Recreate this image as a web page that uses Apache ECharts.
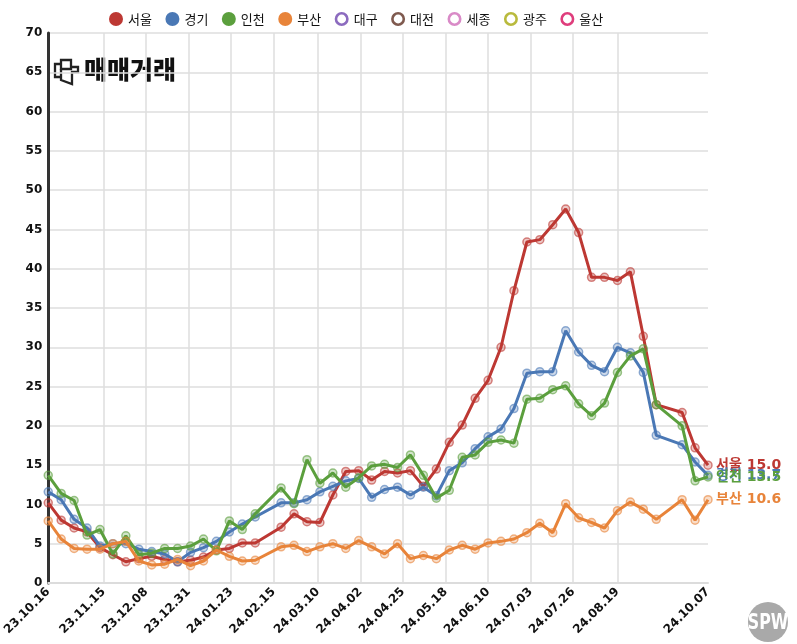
<!DOCTYPE html>
<html><head><meta charset="utf-8">
<script src="https://cdn.jsdelivr.net/npm/echarts@6/dist/echarts.min.js"></script>
<style>html,body{margin:0;padding:0;background:#fff}#c{width:797px;height:644px}</style>
</head><body><div id="c"></div>
<script>
// ---- data ----
const dates = ['23.10.16','23.10.23','23.10.30','23.11.06','23.11.13','23.11.20','23.11.27','23.12.04','23.12.11','23.12.18','23.12.25',
 '24.01.01','24.01.08','24.01.15','24.01.22','24.01.29','24.02.05','24.02.19','24.02.26','24.03.04','24.03.11','24.03.18','24.03.25',
 '24.04.01','24.04.08','24.04.15','24.04.22','24.04.29','24.05.06','24.05.13','24.05.20','24.05.27','24.06.03','24.06.10','24.06.17',
 '24.06.24','24.07.01','24.07.08','24.07.15','24.07.22','24.07.29','24.08.05','24.08.12','24.08.19','24.08.26','24.09.02','24.09.09',
 '24.09.23','24.09.30','24.10.07'];
const seoul = [10.2,8.0,7.0,6.5,4.5,3.6,2.7,3.1,3.4,3.0,2.7,2.9,3.3,4.2,4.4,5.1,5.1,7.1,8.8,7.8,7.7,11.2,14.2,14.3,13.1,14.2,14.0,14.3,12.3,14.5,17.9,20.1,23.5,25.8,30.0,37.2,43.4,43.7,45.6,47.6,44.6,38.9,38.9,38.5,39.6,31.4,22.7,21.7,17.2,15.0];
const gyeonggi = [11.6,10.6,8.1,7.0,4.7,5.0,5.0,4.3,4.0,3.7,2.7,3.9,4.5,5.3,6.5,7.5,8.4,10.2,10.2,10.6,11.6,12.3,13.0,13.3,10.9,11.9,12.2,11.2,12.2,11.1,14.3,15.3,17.1,18.6,19.6,22.2,26.7,26.9,26.9,32.1,29.4,27.7,26.9,30.0,29.3,26.8,18.8,17.6,15.4,13.7];
const incheon = [13.7,11.4,10.5,6.1,6.8,3.7,6.0,3.6,3.8,4.4,4.4,4.7,5.6,4.1,7.9,6.8,8.8,12.1,10.1,15.7,12.7,14.0,12.2,13.4,14.9,15.1,14.7,16.3,13.7,10.8,11.8,16.0,16.3,17.9,18.2,17.8,23.4,23.5,24.6,25.1,22.8,21.3,22.9,26.8,28.9,29.8,22.7,20.0,13.0,13.5];
const busan = [7.9,5.6,4.4,4.3,4.3,5.0,5.3,2.8,2.3,2.4,3.0,2.2,2.8,4.2,3.4,2.8,2.9,4.6,4.8,4.0,4.6,5.0,4.4,5.4,4.6,3.7,5.0,3.1,3.5,3.1,4.2,4.8,4.3,5.1,5.3,5.6,6.4,7.6,6.4,10.1,8.3,7.7,7.0,9.2,10.3,9.4,8.1,10.6,8.0,10.6];
const seriesNames = ['서울','경기','인천','부산','대구','대전','세종','광주','울산'];
const seriesValues = [seoul, gyeonggi, incheon, busan];
const xTickLabels = ['23.10.16','23.11.15','23.12.08','23.12.31','24.01.23','24.02.15','24.03.10','24.04.02','24.04.25','24.05.18','24.06.10','24.07.03','24.07.26','24.08.19','24.10.07'];
const yTicks = {min:0, max:70, interval:5};

// ---- styles ----
const colors = ['#bd3833','#4a78b5','#5b9f3d','#e8843a','#8c6bbf','#7f5a4f','#d98ac7','#b9ba3d','#df3d7c'];
function parseD(s){const p=s.split('.');return Date.UTC(2000+(+p[0]),(+p[1])-1,+p[2]);}
function fmtD(t){const d=new Date(t);const z=n=>(n<10?'0':'')+n;return z(d.getUTCFullYear()%100)+'.'+z(d.getUTCMonth()+1)+'.'+z(d.getUTCDate());}
function rgba(hex,a){const n=parseInt(hex.slice(1),16);return 'rgba('+(n>>16)+','+((n>>8)&255)+','+(n&255)+','+a+')';}
const times = dates.map(parseD);
const tickTimes = xTickLabels.map(parseD);
const FONT = 'DejaVu Sans, Noto Sans CJK KR, sans-serif';
const KFONT = 'Noto Sans CJK KR, sans-serif';
const RING = 'path://M7,0 A7,7 0 1,1 6.99,0 Z M7,2.6 A4.4,4.4 0 1,0 7.01,2.6 Z';

const series = seriesNames.map((name,i)=>{
  const vals = seriesValues[i];
  const col = colors[i];
  if(!vals) return {name, type:'line', data:[], itemStyle:{color:col}, lineStyle:{color:col}};
  return {
    name, type:'line', data: vals.map((v,k)=>[times[k],v]),
    symbol:'circle', symbolSize:8, showAllSymbol:true,
    lineStyle:{color:col, width:3},
    itemStyle:{color:rgba(col,0.28), borderColor:rgba(col,0.6), borderWidth:1.5},
    emphasis:{disabled:true},
    endLabel:{show:true, distance:8, color:col, fontSize:14, fontWeight:'bold', fontFamily:FONT,
      formatter:p=>p.seriesName+' '+p.value[1].toFixed(1)},
    z: 2+i
  };
});

const iconStroke = {fill:null, stroke:'#222', lineWidth:2.3};
const chart = echarts.init(document.getElementById('c'), null, {renderer:'canvas'});
chart.setOption({
  animation:false,
  backgroundColor:'#fff',
  grid:{left:40, right:89, top:33, bottom:61, containLabel:false},
  legend:{
    left:104, top:7, itemWidth:14, itemHeight:14, itemGap:13.5, selectedMode:false,
    textStyle:{fontSize:13, color:'#111', fontFamily:KFONT},
    data: seriesNames.map((n,i)=>({name:n, icon: i<4?'circle':RING,
      itemStyle:{color:colors[i], borderWidth:0, opacity:1}}))
  },
  xAxis:{
    type:'value', min:times[0], max:times[times.length-1],
    axisLine:{show:true, lineStyle:{color:'#dcdcdc', width:2}},
    axisTick:{show:false, customValues:tickTimes},
    axisLabel:{customValues:tickTimes, rotate:45, formatter:v=>fmtD(v), color:'#111', fontSize:12, fontWeight:'bold', fontFamily:FONT, margin:7, hideOverlap:false},
    splitLine:{show:true, showMinLine:false, showMaxLine:false, lineStyle:{color:'#dedede', width:1.5}}
  },
  yAxis:{
    type:'value', min:yTicks.min, max:yTicks.max, interval:yTicks.interval,
    axisLine:{show:true, lineStyle:{color:'#333', width:3}},
    axisTick:{show:false},
    axisLabel:{color:'#111', fontSize:12, fontWeight:'bold', fontFamily:FONT, margin:6},
    splitLine:{show:true, lineStyle:{color:'#dedede', width:1.5}}
  },
  graphic:[
    {type:'polyline', shape:{points:[[60,64],[55,64],[55,77],[60,77]]}, style:iconStroke},
    {type:'rect', shape:{x:61, y:60, width:10, height:9}, style:iconStroke},
    {type:'polyline', shape:{points:[[61,69],[61,80],[72,84],[72,72],[78,72],[78,67],[71,67]]}, style:iconStroke},
    {type:'text', left:84, top:57, style:{text:'매매거래', fill:'#111', font:'900 25px "Noto Sans CJK KR"'}},
    {type:'circle', shape:{cx:768, cy:622, r:20}, style:{fill:'#a9a9a9'}},
    {type:'text', x:768, y:623, scaleX:0.72, style:{text:'SPW', fill:'#fff', font:'bold 22px "DejaVu Sans", sans-serif', align:'center', verticalAlign:'middle'}}
  ],
  series
});
</script></body></html>
